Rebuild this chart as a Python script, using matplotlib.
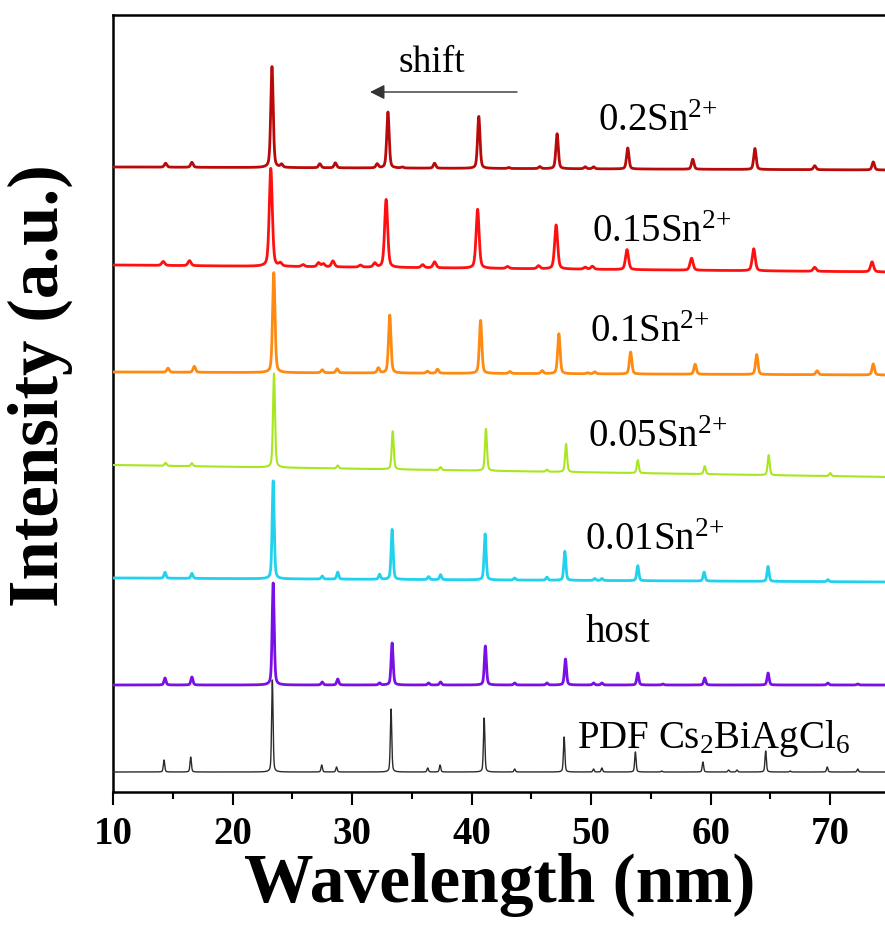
import numpy as np
import matplotlib
matplotlib.use("Agg")
import matplotlib.pyplot as plt

plt.rcParams['font.family'] = ['Liberation Serif', 'DejaVu Serif']
plt.rcParams['mathtext.fontset'] = 'custom'
plt.rcParams['mathtext.rm'] = 'Liberation Serif'
plt.rcParams['mathtext.it'] = 'Liberation Serif:italic'
plt.rcParams['mathtext.bf'] = 'Liberation Serif:bold'

# ---------------- data (peak lists) ----------------
labels = ["PDF Cs$_{\\mathregular{2}}$BiAgCl$_{\\mathregular{6}}$", "host",
          "0.01Sn$^{\\mathregular{2{+}}}$", "0.05Sn$^{\\mathregular{2{+}}}$",
          "0.1Sn$^{\\mathregular{2{+}}}$", "0.15Sn$^{\\mathregular{2{+}}}$",
          "0.2Sn$^{\\mathregular{2{+}}}$"]
colors = ["#2b2b2b", "#7a10e6", "#20d2ee", "#a8e620", "#ff8a12", "#ff1010", "#b80a0a"]
linewidths = [1.0, 2.0, 2.0, 1.5, 2.0, 2.0, 2.0]

# background level (start, end) for each trace
bg_start = [20, 107, 214, 327, 420, 527, 625]
bg_end = [20, 107, 210, 315, 417, 520, 622]
# peak half widths (deg)
hwhm = [0.07, 0.10, 0.10, 0.10, 0.12, 0.15, 0.12]

pdf_pos = [14.27, 16.5, 23.33, 27.46, 28.7, 33.26, 36.33, 37.36, 41.05, 43.6, 47.74,
           50.2, 50.9, 53.7, 55.9, 59.35, 61.5, 62.2, 64.6, 66.65, 69.75, 72.3]
pdf_h = [12, 15, 92, 7, 5, 63, 4, 7, 54, 3, 35, 3, 4, 20, 1, 10, 2, 2, 21, 1, 5, 3]

host_pos = [14.35, 16.6, 23.4, 27.5, 28.8, 32.3, 33.35, 36.4, 37.4, 41.15, 43.6, 46.3,
            47.85, 50.2, 50.9, 53.9, 56.0, 59.5, 64.8, 69.8, 72.3]
host_h = [7, 8, 102, 3, 6, 2, 42, 2, 3, 39, 2, 2, 26, 2, 2, 12, 1, 7, 12, 2, 1]

s001_pos = [14.35, 16.6, 23.4, 27.5, 28.8, 32.3, 33.35, 36.4, 37.4, 41.13, 43.6, 46.3,
            47.8, 50.3, 50.9, 53.9, 59.45, 64.8, 69.8]
s001_h = [6, 5, 98, 3, 7, 5, 50, 3, 5, 46, 2, 3, 29, 2, 2, 15, 9, 15, 2]

s005_pos = [14.4, 16.6, 23.47, 28.8, 33.4, 37.4, 41.2, 46.3, 47.9, 53.9, 59.5, 64.85, 70.0]
s005_h = [3, 3, 94, 3, 38, 3, 42, 2, 28, 13, 8, 20, 3]

s01_pos = [14.6, 16.8, 23.45, 27.5, 28.75, 32.2, 33.15, 36.3, 37.15, 40.75, 43.2, 45.9,
           47.3, 49.7, 50.3, 53.3, 58.7, 63.85, 68.9, 73.6]
s01_h = [4, 6, 100, 3, 4, 5, 58, 2, 4, 53, 2, 3, 40, 1, 2, 22, 10, 20, 4, 11]

s015_pos = [14.2, 16.4, 23.2, 24.0, 25.9, 27.2, 27.6, 28.4, 30.7, 31.9, 32.85, 35.9,
            36.9, 40.5, 43.0, 45.6, 47.07, 49.5, 50.1, 53.0, 58.4, 63.6, 68.7, 73.5]
s015_h = [4, 5, 98, 3, 2, 4, 3, 6, 2, 4, 68, 3, 6, 59, 2, 3, 44, 2, 3, 20, 12, 22, 4, 10]

s02_pos = [14.4, 16.6, 23.3, 24.1, 27.3, 28.6, 32.1, 33.0, 34.2, 36.9, 40.6, 43.1, 45.7,
           47.15, 49.5, 50.2, 53.06, 58.5, 63.7, 68.7, 73.6]
s02_h = [4, 5, 101, 3, 4, 5, 4, 56, 1, 5, 52, 1, 2, 35, 2, 2, 21, 10, 21, 4, 8]

peak_pos = [pdf_pos, host_pos, s001_pos, s005_pos, s01_pos, s015_pos, s02_pos]
peak_h = [pdf_h, host_h, s001_h, s005_h, s01_h, s015_h, s02_h]

# label anchors (2theta, intensity)
label_x = [48.8, 49.5, 49.5, 49.7, 49.9, 50.1, 50.6]
label_y = [44, 150, 242, 345, 450, 550, 661]

x_min, x_max = 10, 75
y_min, y_max = 0, 777
x_ticks = [10, 20, 30, 40, 50, 60, 70]

# ---------------- figure ----------------
fig = plt.figure(figsize=(8.85, 9.31), dpi=100)
ax = fig.add_axes([113 / 885, 139 / 931, (890 - 113) / 885, (792 - 15) / 931])

x = np.linspace(x_min, x_max, 6501)
for i in range(len(labels)):
    bg = bg_start[i] + (bg_end[i] - bg_start[i]) * (x - x_min) / (x_max - x_min)
    y = bg.copy()
    w = hwhm[i]
    for c, h in zip(peak_pos[i], peak_h[i]):
        d = (x - c) / w
        y += h * (0.6 * np.exp(-np.log(2) * d ** 2) + 0.4 / (1 + d ** 2))
    ax.plot(x, y, color=colors[i], lw=linewidths[i], zorder=3 + i)
    ax.text(label_x[i], label_y[i], labels[i], fontsize=28, ha='left', va='baseline',
            zorder=20)

ax.text(33.85, 720, "shift", fontsize=27, ha='left', va='baseline')
ax.annotate("", xy=(31.5, 700), xytext=(43.8, 700),
            arrowprops=dict(arrowstyle='-|>', lw=1.0, color='#333333',
                            mutation_scale=22, shrinkA=0, shrinkB=0))

ax.set_xlim(x_min, x_max)
ax.set_ylim(y_min, y_max)
ax.set_xticks(x_ticks)
ax.set_xticks([15, 25, 35, 45, 55, 65, 75], minor=True)
ax.set_yticks([])
ax.tick_params(axis='x', which='major', direction='out', length=9.5, width=1.5,
               pad=8, labelsize=28)
ax.tick_params(axis='x', which='minor', direction='out', length=5, width=1.5)
for lab in ax.get_xticklabels():
    lab.set_fontweight('bold')
for sp in ax.spines.values():
    sp.set_linewidth(1.8)

fig.text(500 / 885, 1 - 885 / 931, "Wavelength (nm)", fontsize=50, fontweight='bold',
         ha='center', va='center')
fig.text(40 / 885, 1 - 386 / 931, "Intensity (a.u.)", fontsize=51, fontweight='bold',
         ha='center', va='center', rotation=90)

fig.savefig("out.png", dpi=100)
